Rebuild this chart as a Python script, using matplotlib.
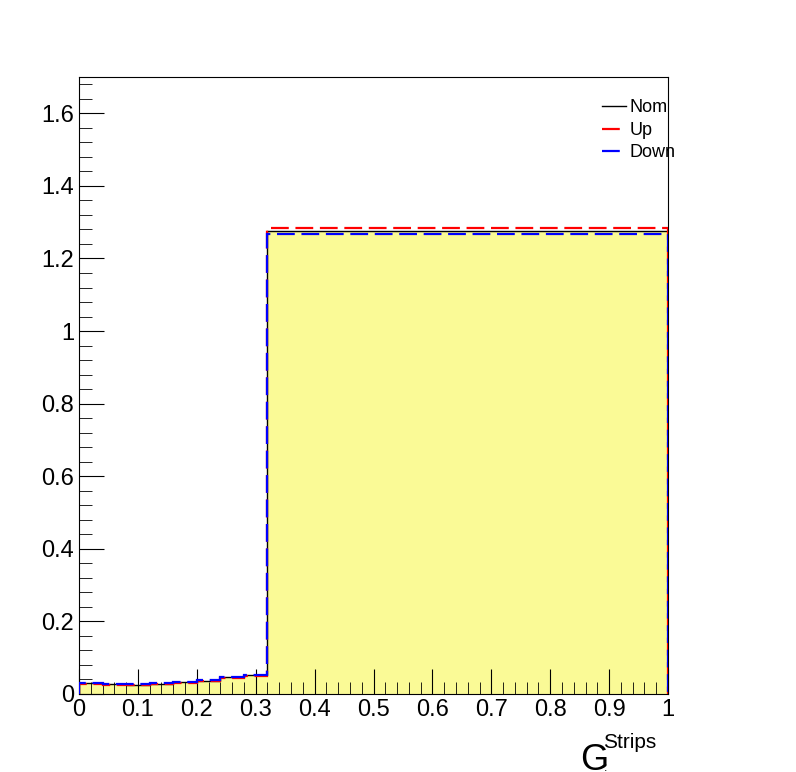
import numpy as np
import matplotlib.pyplot as plt

plt.rcParams['font.family'] = ['Liberation Sans', 'DejaVu Sans']

edges = [0, 0.04, 0.08, 0.12, 0.16, 0.20, 0.24, 0.28, 0.32, 1.0]
nom = [0.029, 0.027, 0.026, 0.028, 0.032, 0.037, 0.046, 0.051, 1.277]
up = [0.027, 0.026, 0.025, 0.027, 0.031, 0.036, 0.045, 0.050, 1.285]
down = [0.031, 0.028, 0.027, 0.030, 0.034, 0.039, 0.048, 0.053, 1.268]

fig = plt.figure(figsize=(7.96, 7.72), dpi=100)
ax = fig.add_axes([79/796, 1-694/772, 589/796, 617/772])

ax.stairs(nom, edges, fill=True, color='#fafa96', zorder=1)
ax.stairs(nom, edges, color='black', lw=1, label='Nom', zorder=2)
ax.stairs(up, edges, color='red', lw=1.6, ls=(0, (8, 3)), label='Up', zorder=3)
ax.stairs(down, edges, color='blue', lw=1.6, ls=(0, (8, 3)), label='Down', zorder=4)

ax.set_xlim(0, 1)
ax.set_ylim(0, 1.7)
ax.set_xticks(np.arange(0, 1.01, 0.1))
ax.set_xticklabels(['0', '0.1', '0.2', '0.3', '0.4', '0.5', '0.6', '0.7', '0.8', '0.9', '1'])
ax.set_xticks(np.arange(0, 1.001, 0.02), minor=True)
ax.set_yticks(np.arange(0, 1.61, 0.2))
ax.set_yticklabels(['0', '0.2', '0.4', '0.6', '0.8', '1', '1.2', '1.4', '1.6'])
ax.set_yticks(np.arange(0, 1.7, 0.04), minor=True)
ax.tick_params(which='both', direction='in', top=False, right=False, labelsize=17)
ax.tick_params(which='major', length=18)
ax.tick_params(which='minor', length=9)

leg = ax.legend(loc='upper right', frameon=False, fontsize=13, handlelength=1.3,
                handletextpad=0.2, labelspacing=0.3, bbox_to_anchor=(1.04, 0.99))
fig.text(580/796, 1-770/772, 'G', fontsize=26, va='baseline')
fig.text(603/796, 1-748/772, 'Strips', fontsize=15, va='baseline')
fig.text(604/796, 1-771/772, ':', fontsize=9, va='baseline')

fig.savefig('out.png')
